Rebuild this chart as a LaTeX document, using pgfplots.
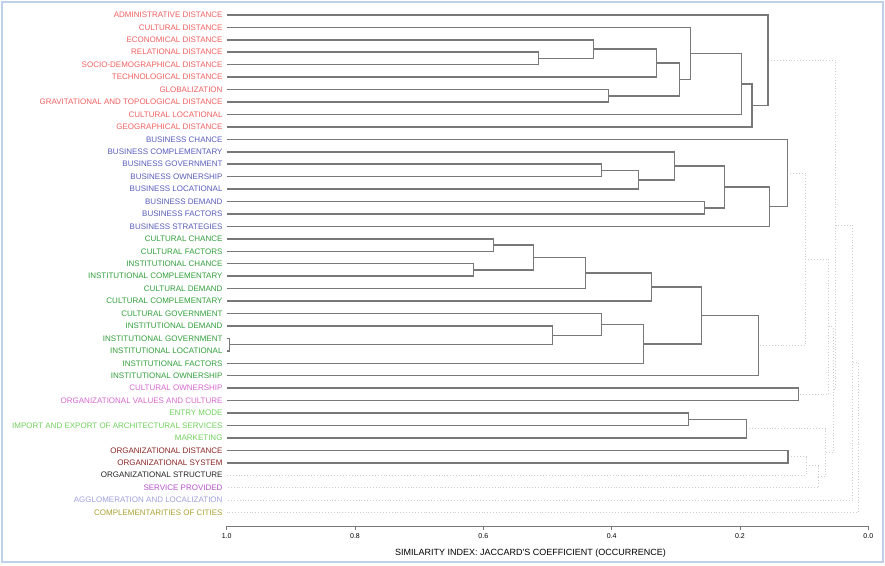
\documentclass[border=0pt]{standalone}
\usepackage{pgfplots}
\pgfplotsset{compat=1.18}
\usepackage{fontspec}
\setmainfont{Liberation Sans}
\definecolor{cred}{RGB}{240,96,96}
\definecolor{cblue}{RGB}{88,92,186}
\definecolor{cgreen}{RGB}{48,158,58}
\definecolor{cpink}{RGB}{214,104,206}
\definecolor{clgreen}{RGB}{112,208,92}
\definecolor{cdred}{RGB}{140,36,36}
\definecolor{cblack}{RGB}{35,35,35}
\definecolor{cpurple}{RGB}{180,82,200}
\definecolor{clav}{RGB}{160,160,220}
\definecolor{colive}{RGB}{170,160,50}
\definecolor{lnc}{RGB}{120,120,120}
\definecolor{dotc}{RGB}{205,205,205}
\definecolor{framec}{RGB}{190,208,234}
\begin{document}
\begin{tikzpicture}
\useasboundingbox (-226.7pt,-39pt) rectangle (658.3pt,526pt);
\draw[framec, line width=2pt] (-224.7pt,-36pt) rectangle (656.3pt,524pt);
\begin{axis}[
  scale only axis,
  width=641.6pt, height=517.3pt,
  xmin=0, xmax=1, x dir=reverse,
  ymin=-41.08, ymax=0.5,
  axis x line*=bottom,
  axis y line*=left,
  y axis line style={draw=none},
  x axis line style={draw=lnc, line width=0.8pt, -},
  xtick={0,0.2,0.4,0.6,0.8,1.0},
  xticklabels={0.0,0.2,0.4,0.6,0.8,1.0},
  tick align=outside,
  major tick length=4pt,
  xtick style={draw=lnc, line width=0.8pt},
  ytick style={draw=none},
  xticklabel style={font=\fontsize{7}{8}\selectfont, inner sep=1pt, yshift=-2pt},
  ytick={0,-1,-2,-3,-4,-5,-6,-7,-8,-9,-10,-11,-12,-13,-14,-15,-16,-17,-18,-19,-20,-21,-22,-23,-24,-25,-26,-27,-28,-29,-30,-31,-32,-33,-34,-35,-36,-37,-38,-39,-40},
  yticklabels={
    {\textcolor{cred}{ADMINISTRATIVE DISTANCE}},
    {\textcolor{cred}{CULTURAL DISTANCE}},
    {\textcolor{cred}{ECONOMICAL DISTANCE}},
    {\textcolor{cred}{RELATIONAL DISTANCE}},
    {\textcolor{cred}{SOCIO-DEMOGRAPHICAL DISTANCE}},
    {\textcolor{cred}{TECHNOLOGICAL DISTANCE}},
    {\textcolor{cred}{GLOBALIZATION}},
    {\textcolor{cred}{GRAVITATIONAL AND TOPOLOGICAL DISTANCE}},
    {\textcolor{cred}{CULTURAL LOCATIONAL}},
    {\textcolor{cred}{GEOGRAPHICAL DISTANCE}},
    {\textcolor{cblue}{BUSINESS CHANCE}},
    {\textcolor{cblue}{BUSINESS COMPLEMENTARY}},
    {\textcolor{cblue}{BUSINESS GOVERNMENT}},
    {\textcolor{cblue}{BUSINESS OWNERSHIP}},
    {\textcolor{cblue}{BUSINESS LOCATIONAL}},
    {\textcolor{cblue}{BUSINESS DEMAND}},
    {\textcolor{cblue}{BUSINESS FACTORS}},
    {\textcolor{cblue}{BUSINESS STRATEGIES}},
    {\textcolor{cgreen}{CULTURAL CHANCE}},
    {\textcolor{cgreen}{CULTURAL FACTORS}},
    {\textcolor{cgreen}{INSTITUTIONAL CHANCE}},
    {\textcolor{cgreen}{INSTITUTIONAL COMPLEMENTARY}},
    {\textcolor{cgreen}{CULTURAL DEMAND}},
    {\textcolor{cgreen}{CULTURAL COMPLEMENTARY}},
    {\textcolor{cgreen}{CULTURAL GOVERNMENT}},
    {\textcolor{cgreen}{INSTITUTIONAL DEMAND}},
    {\textcolor{cgreen}{INSTITUTIONAL GOVERNMENT}},
    {\textcolor{cgreen}{INSTITUTIONAL LOCATIONAL}},
    {\textcolor{cgreen}{INSTITUTIONAL FACTORS}},
    {\textcolor{cgreen}{INSTITUTIONAL OWNERSHIP}},
    {\textcolor{cpink}{CULTURAL OWNERSHIP}},
    {\textcolor{cpink}{ORGANIZATIONAL VALUES AND CULTURE}},
    {\textcolor{clgreen}{ENTRY MODE}},
    {\textcolor{clgreen}{IMPORT AND EXPORT OF ARCHITECTURAL SERVICES}},
    {\textcolor{clgreen}{MARKETING}},
    {\textcolor{cdred}{ORGANIZATIONAL DISTANCE}},
    {\textcolor{cdred}{ORGANIZATIONAL SYSTEM}},
    {\textcolor{cblack}{ORGANIZATIONAL STRUCTURE}},
    {\textcolor{cpurple}{SERVICE PROVIDED}},
    {\textcolor{clav}{AGGLOMERATION AND LOCALIZATION}},
    {\textcolor{colive}{COMPLEMENTARITIES OF CITIES}}},
  yticklabel style={font=\fontsize{8}{9}\selectfont, anchor=east, inner sep=0pt},
  xlabel={SIMILARITY INDEX: JACCARD\textquotesingle S COEFFICIENT (OCCURRENCE)},
  xlabel style={font=\fontsize{9}{10}\selectfont, inner sep=0pt, xshift=-17pt, yshift=-10pt},
  clip=false,
  seg/.style={draw=lnc, line width=1.5pt, mark=none},
  dseg/.style={draw=dotc, dotted, line width=0.9pt, mark=none},
]
% dotted (low-similarity) joins
\addplot[dseg] coordinates {(0.126,-12.703) (0.098,-12.703) (0.098,-26.578) (0.171,-26.578)};
\addplot[dseg] coordinates {(0.098,-19.641) (0.062,-19.641) (0.062,-30.5) (0.109,-30.5)};
\addplot[dseg] coordinates {(0.125,-35.5) (0.097,-35.5) (0.097,-37) (1,-37)};
\addplot[dseg] coordinates {(0.097,-36.25) (0.078,-36.25) (0.078,-38) (1,-38)};
\addplot[dseg] coordinates {(0.190,-33.25) (0.067,-33.25) (0.067,-37.125) (0.078,-37.125)};
\addplot[dseg] coordinates {(0.062,-25.070) (0.055,-25.070) (0.055,-35.188) (0.067,-35.188)};
\addplot[dseg] coordinates {(0.156,-3.637) (0.051,-3.637) (0.051,-30.129) (0.055,-30.129)};
\addplot[dseg] coordinates {(0.051,-16.883) (0.024,-16.883) (0.024,-39) (1,-39)};
\addplot[dseg] coordinates {(0.024,-27.941) (0.016,-27.941) (0.016,-40) (1,-40)};
% red cluster
\addplot[seg] coordinates {(1,-3) (0.514,-3) (0.514,-4) (1,-4)};
\addplot[seg] coordinates {(1,-2) (0.428,-2) (0.428,-3.5) (0.514,-3.5)};
\addplot[seg] coordinates {(0.428,-2.75) (0.330,-2.75) (0.330,-5) (1,-5)};
\addplot[seg] coordinates {(1,-6) (0.405,-6) (0.405,-7) (1,-7)};
\addplot[seg] coordinates {(0.330,-3.875) (0.294,-3.875) (0.294,-6.5) (0.405,-6.5)};
\addplot[seg] coordinates {(1,-1) (0.277,-1) (0.277,-5.1875) (0.294,-5.1875)};
\addplot[seg] coordinates {(0.277,-3.094) (0.198,-3.094) (0.198,-8) (1,-8)};
\addplot[seg] coordinates {(0.198,-5.547) (0.181,-5.547) (0.181,-9) (1,-9)};
\addplot[seg] coordinates {(1,0) (0.156,0) (0.156,-7.273) (0.181,-7.273)};
% blue cluster
\addplot[seg] coordinates {(1,-12) (0.416,-12) (0.416,-13) (1,-13)};
\addplot[seg] coordinates {(0.416,-12.5) (0.358,-12.5) (0.358,-14) (1,-14)};
\addplot[seg] coordinates {(1,-11) (0.302,-11) (0.302,-13.25) (0.358,-13.25)};
\addplot[seg] coordinates {(1,-15) (0.255,-15) (0.255,-16) (1,-16)};
\addplot[seg] coordinates {(0.302,-12.125) (0.224,-12.125) (0.224,-15.5) (0.255,-15.5)};
\addplot[seg] coordinates {(0.224,-13.8125) (0.154,-13.8125) (0.154,-17) (1,-17)};
\addplot[seg] coordinates {(1,-10) (0.126,-10) (0.126,-15.406) (0.154,-15.406)};
% green cluster
\addplot[seg] coordinates {(1,-18) (0.584,-18) (0.584,-19) (1,-19)};
\addplot[seg] coordinates {(1,-20) (0.615,-20) (0.615,-21) (1,-21)};
\addplot[seg] coordinates {(0.584,-18.5) (0.522,-18.5) (0.522,-20.5) (0.615,-20.5)};
\addplot[seg] coordinates {(0.522,-19.5) (0.441,-19.5) (0.441,-22) (1,-22)};
\addplot[seg] coordinates {(0.441,-20.75) (0.338,-20.75) (0.338,-23) (1,-23)};
\addplot[seg] coordinates {(1,-26) (0.996,-26) (0.996,-27) (1,-27)};
\addplot[seg] coordinates {(1,-25) (0.492,-25) (0.492,-26.5) (0.996,-26.5)};
\addplot[seg] coordinates {(1,-24) (0.416,-24) (0.416,-25.75) (0.492,-25.75)};
\addplot[seg] coordinates {(0.416,-24.875) (0.350,-24.875) (0.350,-28) (1,-28)};
\addplot[seg] coordinates {(0.338,-21.875) (0.260,-21.875) (0.260,-26.4375) (0.350,-26.4375)};
\addplot[seg] coordinates {(0.260,-24.156) (0.171,-24.156) (0.171,-29) (1,-29)};
% small clusters
\addplot[seg] coordinates {(1,-30) (0.109,-30) (0.109,-31) (1,-31)};
\addplot[seg] coordinates {(1,-32) (0.280,-32) (0.280,-33) (1,-33)};
\addplot[seg] coordinates {(0.280,-32.5) (0.190,-32.5) (0.190,-34) (1,-34)};
\addplot[seg] coordinates {(1,-35) (0.125,-35) (0.125,-36) (1,-36)};
\end{axis}
\end{tikzpicture}
\end{document}
